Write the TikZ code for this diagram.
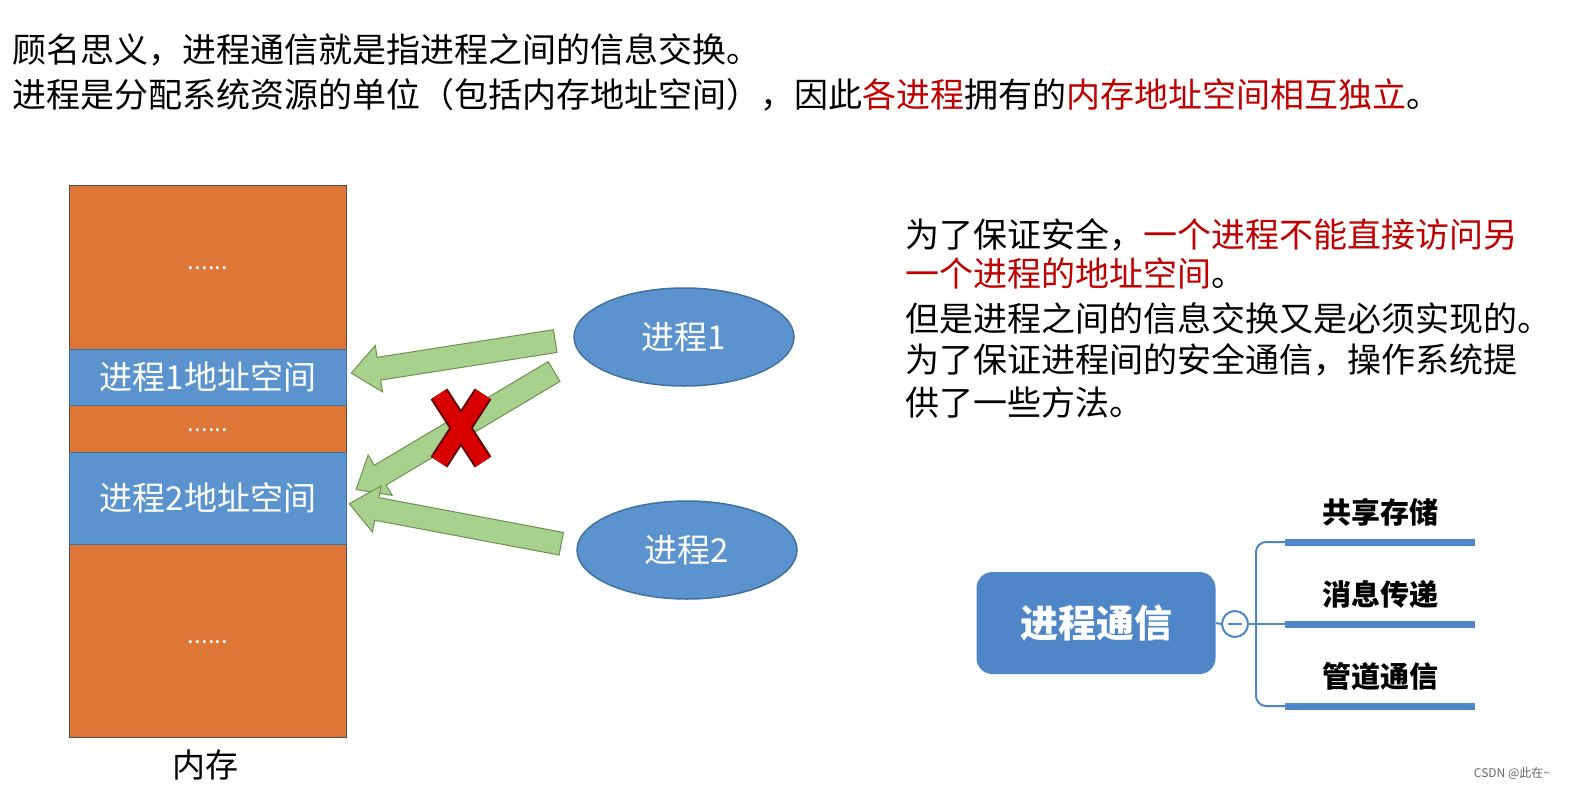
\documentclass[tikz,border=0pt]{standalone}
\usepackage{fontspec}
\setmainfont{Noto Sans CJK SC}
\usetikzlibrary{shapes.arrows,shapes.geometric,calc}
\definecolor{org}{HTML}{DE7638}
\definecolor{blu}{HTML}{5B93CF}
\definecolor{bdk}{HTML}{41719C}
\definecolor{grn}{HTML}{A9D18E}
\definecolor{gdk}{HTML}{6E8F4F}
\definecolor{rd}{HTML}{C00000}
\definecolor{mm}{HTML}{4F86C8}
\tikzset{
 txt/.style={anchor=west,inner sep=0,font=\fontsize{34}{38}\selectfont},
 band/.style={fill=blu,draw=bdk,line width=1pt},
 proc/.style={ellipse,fill=blu,draw=bdk,line width=1.5pt,minimum width=220,minimum height=98,text=white,font=\fontsize{33}{36}\selectfont},
 fat/.style={single arrow,fill=grn,draw=gdk,line width=1pt,minimum width=46,single arrow head extend=12pt,single arrow head indent=0pt,inner sep=0,single arrow tip angle=80,text height=22pt,text depth=0pt},
 lbl/.style={font=\bfseries\fontsize{29}{32}\selectfont},
}
\newcommand{\fatarrow}[2]{\path let \p1=($(#2)-(#1)$), \n1={atan2(\y1,\x1)}, \n2={veclen(\x1,\y1)} in node[fat,rotate=\n1,minimum height=\n2] at ($(#1)!0.5!(#2)$) {};}
\begin{document}
\begin{tikzpicture}[x=1pt,y=-1pt]
\useasboundingbox[fill=white] (0,0) rectangle (1591,801);
\node[txt] (l1) at (12,50) {顾名思义，进程通信就是指进程之间的信息交换。};
\node[txt] (l2) at (12,95) {进程是分配系统资源的单位（包括内存地址空间），因此\textcolor{rd}{各进程}拥有的\textcolor{rd}{内存地址空间相互独立}。};
% memory
\node[fill=org,draw=black!70,line width=1pt,minimum width=277,minimum height=552,inner sep=0] (mem) at (208,461) {};
\node[band,minimum width=277,minimum height=56,inner sep=0,text=white,font=\fontsize{33}{36}\selectfont] (p1s) at (208,377) {进程1地址空间};
\node[band,minimum width=277,minimum height=92,inner sep=0,text=white,font=\fontsize{33}{36}\selectfont] (p2s) at (208,498) {进程2地址空间};
\node[text=white,font=\fontsize{24}{24}\selectfont] (d1) at (208,268) {......};
\node[text=white,font=\fontsize{24}{24}\selectfont] (d2) at (208,430) {......};
\node[text=white,font=\fontsize{24}{24}\selectfont] (d3) at (208,642) {......};
\node[font=\fontsize{33}{36}\selectfont] (memlbl) at (205,765) {内存};
% processes
\node[proc] (pr1) at (684,337) {进程1};
\node[proc] (pr2) at (687,550) {进程2};
\coordinate (a1s) at (562,340); \coordinate (a1e) at (358,372);
\coordinate (a2s) at (560,368); \coordinate (a2e) at (362,486);
\coordinate (a3s) at (568,545); \coordinate (a3e) at (356,505);
\fatarrow{a1s}{a1e}
\fatarrow{a2s}{a2e}
\fatarrow{a3s}{a3e}
% red X
\coordinate (xc) at (461,428);
\draw[line width=20pt,draw=rd!50!black] ($(xc)+(-22,-34)$) -- ($(xc)+(22,34)$) ($(xc)+(22,-34)$) -- ($(xc)+(-22,34)$);
\draw[line width=16pt,draw=red!85!black] ($(xc)+(-22,-34)$) -- ($(xc)+(22,34)$) ($(xc)+(22,-34)$) -- ($(xc)+(-22,34)$);
% right text
\node[txt] (r1) at (905,235) {为了保证安全，\textcolor{rd}{一个进程不能直接访问另}};
\node[txt] (r2) at (905,273) {\textcolor{rd}{一个进程的地址空间}。};
\node[txt] (r3) at (905,318) {但是进程之间的信息交换又是必须实现的。};
\node[txt] (r4) at (905,360) {为了保证进程间的安全通信，操作系统提};
\node[txt] (r5) at (905,403) {供了一些方法。};
% mind map
\node[fill=mm,rounded corners=16pt,minimum width=239,minimum height=102,text=white,font=\bfseries\fontsize{38}{42}\selectfont] (mmc) at (1096,623) {进程通信};
\node[circle,draw=mm,fill=white,line width=2pt,minimum size=26,inner sep=0] (cir) at (1235,624) {};
\draw[mm,line width=2pt] (1228,624) -- (1242,624);
\draw[mm,line width=2pt] (mmc.east) -- (cir.west);
\coordinate (b1) at (1285,542); \coordinate (b2) at (1285,624); \coordinate (b3) at (1285,706);
\draw[mm,line width=2pt,rounded corners=10pt] (b1) -- (1256,542) -- (1256,706) -- (b3);
\draw[mm,line width=2pt] (cir.east) -- (b2);
\foreach \b/\t in {b1/共享存储,b2/消息传递,b3/管道通信}{
 \draw[mm,line width=7pt] (\b) -- ++(190,0);
 \node[lbl,anchor=south] at ($(\b)+(95,-12)$) {\t};
}
\node[font=\fontsize{12}{14}\selectfont,text=black!60] (wm) at (1512,773) {CSDN @此在\textasciitilde};
\end{tikzpicture}
\end{document}
